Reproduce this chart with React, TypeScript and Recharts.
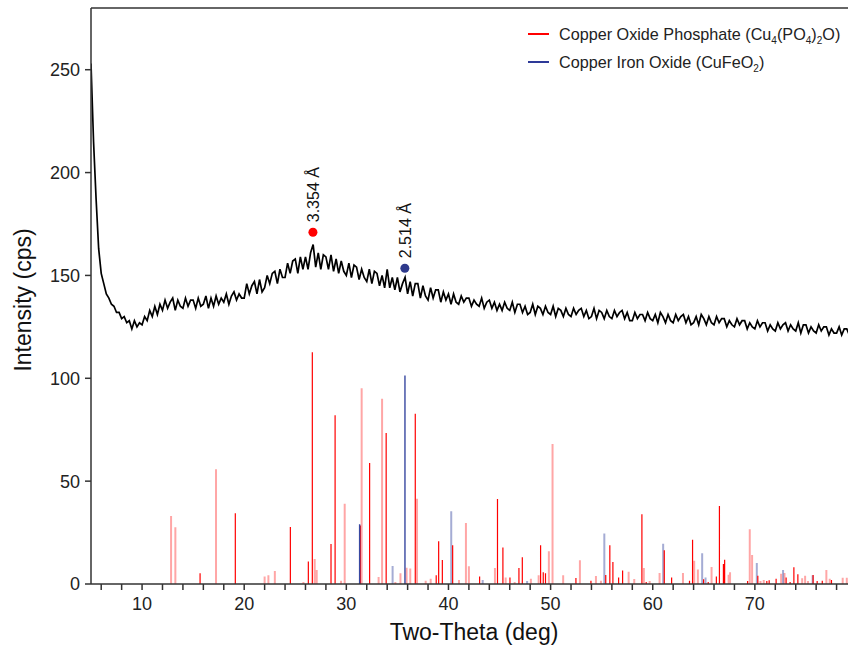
import React from 'react';
import { ComposedChart, Line, Scatter, XAxis, YAxis, ReferenceLine, Label } from 'recharts';

const FONT = "'Liberation Sans', Arial, Helvetica, sans-serif";

// measured scan: starts at 5 deg, 0.25 deg step
const scanStart = 5;
const scanStep = 0.25;
const scanIntensity = [
  253, 215, 187, 163,
  151, 146, 141, 139,
  136, 135, 132, 132,
  129, 130, 127, 128,
  124, 128, 125, 127,
  126, 130, 128, 133,
  130, 135, 131, 136,
  133, 138, 134, 137,
  139, 133, 138, 135,
  134, 139, 135, 138,
  138, 134, 139, 135,
  136, 140, 134, 139,
  135, 140, 136, 139,
  137, 141, 136, 140,
  142, 138, 141, 139,
  139, 146, 141, 145,
  147, 141, 148, 142,
  144, 150, 146, 151,
  152, 146, 153, 149,
  149, 156, 151, 157,
  158, 151, 159, 153,
  159, 153, 161, 165,
  154, 161, 153, 160,
  159, 153, 160, 152,
  158, 151, 157, 152,
  150, 156, 149, 155,
  154, 148, 153, 149,
  147, 153, 146, 152,
  151, 145, 150, 144,
  153, 144, 149, 143,
  149, 142, 146, 149,
  141, 147, 140, 146,
  146, 139, 145, 140,
  138, 144, 139, 143,
  143, 137, 142, 138,
  141, 136, 141, 137,
  136, 140, 137, 139,
  139, 135, 138, 136,
  135, 139, 134, 137,
  138, 134, 137, 133,
  136, 133, 137, 134,
  133, 137, 132, 136,
  136, 132, 135, 131,
  132, 136, 131, 135,
  134, 131, 135, 132,
  131, 135, 130, 134,
  133, 130, 134, 131,
  130, 134, 131, 133,
  134, 130, 133, 129,
  130, 134, 129, 133,
  132, 129, 133, 130,
  129, 133, 130, 132,
  133, 129, 132, 128,
  128, 132, 129, 131,
  131, 128, 132, 129,
  128, 131, 127, 132,
  130, 127, 131, 128,
  127, 131, 128, 130,
  131, 127, 130, 126,
  127, 130, 126, 131,
  129, 126, 130, 127,
  126, 130, 127, 129,
  129, 125, 128, 126,
  125, 129, 126, 128,
  128, 124, 127, 125,
  124, 128, 125, 127,
  127, 123, 126, 124,
  123, 127, 124, 126,
  127, 123, 126, 124,
  123, 127, 122, 126,
  126, 122, 125, 123,
  122, 126, 123, 125,
  125, 121, 124, 122,
  122, 125, 121, 124,
  124, 121, 125, 122,
  123,
];

// Copper Oxide Phosphate reference lines (strong)
const phosphateStrongTheta = [
  15.68, 19.13, 24.52, 26.28, 26.67, 28.5, 28.9, 31.37, 32.28, 33.9, 36.75, 38.8, 39.04, 39.4, 40.41,
  43.05, 44.8, 45.33, 46.02, 46.9, 47.23, 49.02, 49.28, 49.5, 52.48, 53.95, 55.4, 55.8, 56.1, 56.66,
  57.05, 58.94, 59.36, 61.13, 61.85, 63.6, 63.9, 64.98, 65.43, 66.23, 66.53, 66.92, 67.04, 69.29, 70.29,
  71.17, 71.4, 72.08, 73.06, 73.45, 73.82, 74.21, 75.7, 76.1, 76.6, 77.5,
];
const phosphateStrongIntensity = [
  5.2, 34.4, 27.7, 10.9, 112.7, 19.5, 82, 28.4, 58.8, 73.4, 82.7, 4.2, 20.8, 11.7, 18.8,
  3.6, 41.3, 17.7, 3.1, 7.8, 13, 18.8, 5.7, 5.2, 2.9, 1.6, 4.4, 18.8, 10.7, 3.2,
  6.6, 33.9, 1, 16.4, 3.2, 1.6, 21.5, 2.3, 1, 3.6, 37.9, 9.7, 11.8, 1.5, 4,
  1.5, 1.8, 2.6, 3.2, 1, 8.1, 4.7, 4.4, 1.5, 1.6, 2,
];
// Copper Oxide Phosphate reference lines (weak)
const phosphateWeakTheta = [
  12.84, 13.26, 17.24, 22.0, 22.37, 23.0, 25.8, 26.9, 27.1, 29.48, 29.84, 31.5, 33.16, 33.5, 34.8,
  35.3, 35.9, 36.26, 36.92, 37.77, 38.26, 41.03, 41.71, 42.0, 44.55, 45.6, 46.48, 48.07, 48.83, 49.83,
  50.19, 51.23, 52.87, 54.44, 54.93, 57.64, 58.19, 59.13, 59.7, 60.67, 62.96, 64.06, 64.42, 65.76, 67.43,
  67.57, 69.5, 69.73, 70.55, 70.87, 72.57, 72.9, 74.63, 74.92, 75.2, 77.0, 77.33, 78.6, 79.0,
];
const phosphateWeakIntensity = [
  33, 27.6, 55.8, 3.6, 4.2, 6.3, 1, 12.2, 6.8, 1.6, 39, 95.2, 3.4, 90, 1,
  5.2, 7.9, 7.5, 41.5, 1.6, 2.6, 2, 29.7, 8.6, 7.8, 3.1, 1, 2.6, 4.2, 15.9,
  68.1, 4.2, 11.5, 3.9, 1.6, 6, 2.4, 7.8, 1.5, 5.4, 5.4, 11.3, 7, 8.3, 4.5,
  5.7, 26.6, 14.1, 1.5, 2, 5, 5.4, 2.8, 4, 1.5, 6.8, 2.6, 3, 3,
];
// Copper Iron Oxide reference lines
const ironStrongTheta = [31.3, 35.74];
const ironStrongIntensity = [29, 101.3];
const ironWeakTheta = [34.53, 40.27, 43.35, 47.7, 55.26, 61.02, 64.84, 65.17, 70.19, 72.76, 75.66];
const ironWeakIntensity = [8.8, 35.4, 2, 1.5, 24.5, 19.6, 14.9, 3.2, 10.2, 6.8, 4.2];

// annotated peaks
const markerTheta = [26.73, 35.73];
const markerIntensity = [171, 153.5];
const markerLabels = ['3.354 Å', '2.514 Å'];

const xTicks = [6, 8, 10, 12, 14, 16, 18, 20, 22, 24, 26, 28, 30, 32, 34, 36, 38, 40, 42, 44, 46, 48, 50, 52, 54, 56, 58, 60, 62, 64, 66, 68, 70, 72, 74, 76, 78];
const yTicks = [0, 50, 100, 150, 200, 250];

const scanData = scanIntensity.map((v, i) => ({ x: scanStart + i * scanStep, y: v }));

function toSticks(theta: number[], intensity: number[]) {
  const out: { x: number; y: number | null }[] = [];
  theta.forEach((t, i) => {
    out.push({ x: t, y: 0 });
    out.push({ x: t, y: intensity[i] });
    out.push({ x: t, y: null });
  });
  return out;
}

const phosStrongData = toSticks(phosphateStrongTheta, phosphateStrongIntensity);
const phosWeakData = toSticks(phosphateWeakTheta, phosphateWeakIntensity);
const ironStrongData = toSticks(ironStrongTheta, ironStrongIntensity);
const ironWeakData = toSticks(ironWeakTheta, ironWeakIntensity);

const redMarker = [{ x: markerTheta[0], y: markerIntensity[0], label: markerLabels[0] }];
const blueMarker = [{ x: markerTheta[1], y: markerIntensity[1], label: markerLabels[1] }];

const makeMarker = (color: string) => (props: any) => {
  const { cx, cy, payload } = props;
  if (cx == null || cy == null) return <g />;
  return (
    <g>
      <circle cx={cx} cy={cy} r={4.5} fill={color} />
      <text
        x={cx}
        y={cy - 10}
        dy="0.36em"
        transform={`rotate(-90 ${cx} ${cy - 10})`}
        textAnchor="start"
        fontSize={16}
        fontFamily={FONT}
        fill="#111"
      >
        {payload.label}
      </text>
    </g>
  );
};

const XLabel = (props: any) => {
  const vb = props.viewBox || { x: 91, y: 584, width: 766, height: 68 };
  return (
    <text x={vb.x + vb.width / 2} y={vb.y + 56} textAnchor="middle" fontSize={23} fontFamily={FONT} fill="#111">
      Two-Theta (deg)
    </text>
  );
};

const YLabel = (props: any) => {
  const vb = props.viewBox || { x: 0, y: 8, width: 91, height: 576 };
  const cx = vb.x + 23;
  const cy = vb.y + vb.height / 2 + 4;
  return (
    <text x={cx} y={cy} dy="0.36em" transform={`rotate(-90 ${cx} ${cy})`} textAnchor="middle" fontSize={23} fontFamily={FONT} fill="#111">
      Intensity (cps)
    </text>
  );
};

const subStyle: React.CSSProperties = { fontSize: '0.62em', verticalAlign: '-0.35em', lineHeight: 0 };

export default function App() {
  return (
    <div style={{ position: 'fixed', left: 0, top: 0, width: 848, height: 652, overflow: 'hidden', background: '#fff' }}>
      <ComposedChart width={870} height={652} margin={{ top: 8, right: 13, left: 0, bottom: 0 }}>
        <XAxis
          type="number"
          dataKey="x"
          domain={[5, 80]}
          allowDataOverflow
          ticks={xTicks}
          interval={0}
          tickFormatter={(v: number) => (v % 10 === 0 ? String(v) : '')}
          tickSize={6}
          tickMargin={7}
          height={68}
          stroke="#333"
          strokeWidth={1.5}
          tick={{ fontSize: 18, fill: '#222', fontFamily: FONT }}
        >
          <Label content={XLabel} />
        </XAxis>
        <YAxis
          type="number"
          dataKey="y"
          domain={[0, 280]}
          allowDataOverflow
          ticks={yTicks}
          interval={0}
          tickSize={6}
          tickMargin={5}
          width={91}
          stroke="#333"
          strokeWidth={1.5}
          tick={{ fontSize: 18, fill: '#222', fontFamily: FONT }}
        >
          <Label content={YLabel} />
        </YAxis>
        <ReferenceLine y={280} stroke="#333" strokeWidth={1.5} ifOverflow="extendDomain" />
        <Line data={phosWeakData} dataKey="y" type="linear" stroke="#ff0000" strokeOpacity={0.35} strokeWidth={2} dot={false} activeDot={false} connectNulls={false} isAnimationActive={false} />
        <Line data={ironWeakData} dataKey="y" type="linear" stroke="#3848a0" strokeOpacity={0.45} strokeWidth={2} dot={false} activeDot={false} connectNulls={false} isAnimationActive={false} />
        <Line data={phosStrongData} dataKey="y" type="linear" stroke="#ff0000" strokeWidth={1.2} dot={false} activeDot={false} connectNulls={false} isAnimationActive={false} />
        <Line data={ironStrongData} dataKey="y" type="linear" stroke="#3848a0" strokeWidth={1.4} dot={false} activeDot={false} connectNulls={false} isAnimationActive={false} />
        <Line data={scanData} dataKey="y" type="linear" stroke="#000" strokeWidth={1.7} strokeLinejoin="miter" dot={false} activeDot={false} isAnimationActive={false} />
        <Scatter data={redMarker} dataKey="y" shape={makeMarker('#ff0000')} isAnimationActive={false} />
        <Scatter data={blueMarker} dataKey="y" shape={makeMarker('#2e3a8c')} isAnimationActive={false} />
      </ComposedChart>
      <div style={{ position: 'absolute', left: 528, top: 20, fontFamily: FONT, fontSize: 16.2, color: '#222' }}>
        <div style={{ display: 'flex', alignItems: 'center', height: 28, whiteSpace: 'nowrap' }}>
          <span style={{ display: 'inline-block', width: 21, height: 2, background: '#ff0000', marginRight: 10 }} />
          <span>Copper Oxide Phosphate (Cu<sub style={subStyle}>4</sub>(PO<sub style={subStyle}>4</sub>)<sub style={subStyle}>2</sub>O)</span>
        </div>
        <div style={{ display: 'flex', alignItems: 'center', height: 28, whiteSpace: 'nowrap' }}>
          <span style={{ display: 'inline-block', width: 21, height: 2, background: '#2e3a98', marginRight: 10 }} />
          <span>Copper Iron Oxide (CuFeO<sub style={subStyle}>2</sub>)</span>
        </div>
      </div>
    </div>
  );
}
